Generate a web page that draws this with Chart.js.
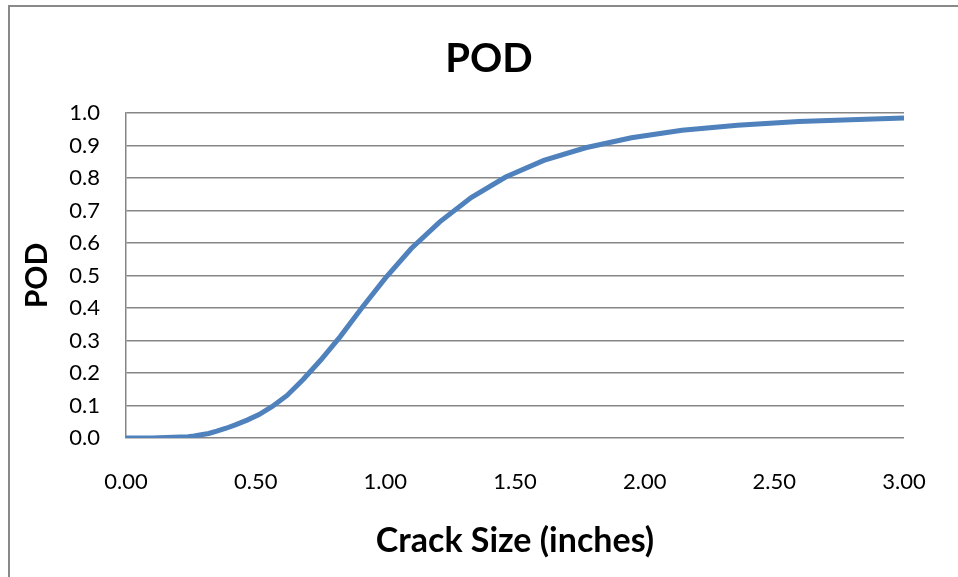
<!DOCTYPE html>
<html>
<head>
<meta charset="utf-8">
<script src="https://cdn.jsdelivr.net/npm/chart.js@4.4.1/dist/chart.umd.min.js"></script>
<style>
  html, body { margin: 0; padding: 0; background: #fff; overflow: hidden; }
  #frame {
    position: absolute; left: 8px; top: 5px;
    width: 958px; height: 580px;
    border: 2px solid #898989;
  }
</style>
</head>
<body>
<div id="frame"><canvas id="podChart" width="958" height="580"></canvas></div>
<script>
// crack size (inches) and probability of detection
const crackSize = [0.00, 0.10, 0.239, 0.263, 0.290, 0.319, 0.350, 0.386, 0.424, 0.467, 0.513, 0.564,
                   0.621, 0.683, 0.751, 0.826, 0.909, 1.000, 1.100, 1.210, 1.331, 1.464, 1.611,
                   1.772, 1.949, 2.144, 2.358, 2.594, 2.853, 3.000];
const pod = [0.000, 0.000, 0.004, 0.006, 0.010, 0.014, 0.021, 0.030, 0.041, 0.055, 0.072, 0.097,
             0.131, 0.180, 0.240, 0.312, 0.400, 0.492, 0.583, 0.665, 0.740, 0.803, 0.854,
             0.893, 0.924, 0.947, 0.962, 0.974, 0.981, 0.985];
const xTicks = [0, 0.5, 1, 1.5, 2, 2.5, 3];

const gridGray = '#868686';
const fontFam = 'Lato, "Open Sans", sans-serif';

const points = crackSize.map((a, i) => ({ x: a, y: pod[i] }));

const ctx = document.getElementById('podChart').getContext('2d');

new Chart(ctx, {
    type: 'scatter',
    data: {
        datasets: [{
            label: 'POD',
            data: points,
            showLine: true,
            borderColor: '#4F81BD',
            borderWidth: 5,
            pointRadius: 0,
            tension: 0
        }]
    },
    options: {
        responsive: false,
        animation: false,
        plugins: {
            legend: { display: false },
            tooltip: { enabled: false },
            title: {
                display: true,
                text: 'POD',
                color: '#000',
                font: { family: fontFam, size: 40, weight: 'bold' },
                padding: { top: 28, bottom: 30 }
            }
        },
        scales: {
            x: {
                type: 'linear',
                min: 0,
                max: 3,
                afterBuildTicks: (scale) => { scale.ticks = xTicks.map(v => ({ value: v })); },
                afterFit: (scale) => { scale.height = 149; },
                grid: { display: false, drawTicks: false },
                border: { display: false },
                ticks: {
                    color: '#000',
                    padding: 31,
                    maxRotation: 0,
                    font: { family: fontFam, size: 22 },
                    callback: (v) => Number(v).toFixed(2)
                },
                title: {
                    display: true,
                    text: 'Crack Size (inches)',
                    color: '#000',
                    font: { family: fontFam, size: 34, weight: 'bold' },
                    padding: { top: 0, bottom: 26 }
                }
            },
            y: {
                min: 0,
                max: 1,
                afterFit: (scale) => { scale.width = 116; },
                grid: { color: gridGray, lineWidth: 1.5, drawTicks: false },
                border: { display: true, color: gridGray, width: 1.5 },
                ticks: {
                    stepSize: 0.1,
                    color: '#000',
                    padding: 26,
                    font: { family: fontFam, size: 22 },
                    callback: (v) => Number(v).toFixed(1)
                },
                title: {
                    display: true,
                    text: 'POD',
                    color: '#000',
                    font: { family: fontFam, size: 30, weight: 'bold' },
                    padding: { top: 9, bottom: 0 }
                }
            },
            // empty right-hand axis, only reserves the margin right of the plot
            yRight: {
                position: 'right',
                min: 0,
                max: 1,
                afterFit: (scale) => { scale.width = 64; },
                grid: { display: false, drawTicks: false },
                border: { display: false },
                ticks: { display: false }
            }
        }
    }
});
</script>
</body>
</html>
